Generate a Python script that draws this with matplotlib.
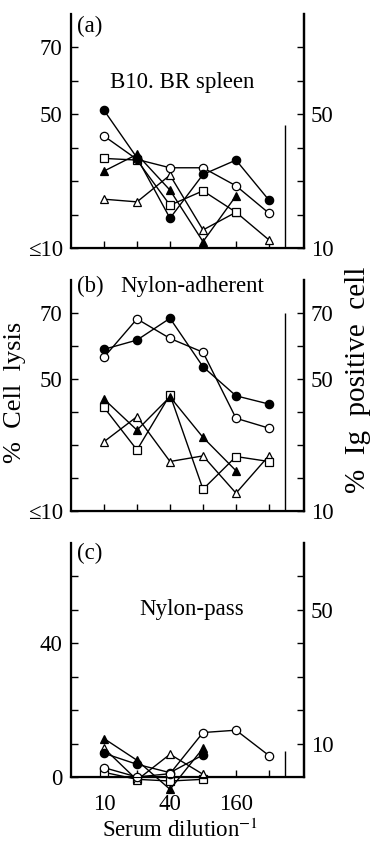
import matplotlib
matplotlib.use("Agg")
import matplotlib.pyplot as plt

plt.rcParams['font.family'] = ['Liberation Serif', 'DejaVu Serif']
plt.rcParams['mathtext.fontset'] = 'stix'

# dilution steps 10, 20, 40, 80, 160, 320 -> index 0..5
x_idx = [0, 1, 2, 3, 4, 5]
x_tick_labels = ['10', '', '40', '', '160', '']

# (a) B10.BR spleen
a_filled_circle = [51.2, 37.0, 18.9, 32.0, 36.3, 24.3]
a_open_circle = [43.5, 36.5, 34.0, 34.0, 28.6, 20.4]
a_open_square = [36.8, 36.3, 22.8, 27.1, 20.7]
a_filled_tri = [33.0, 38.0, 27.3, 11.9, 25.6]
a_open_tri = [24.6, 23.8, 31.8, 15.4, 20.7, 12.4]

# (b) Nylon-adherent
b_filled_circle = [59.0, 61.8, 68.4, 53.7, 44.9, 42.4]
b_open_circle = [56.6, 68.2, 62.3, 58.1, 38.1, 35.1]
b_filled_tri = [43.9, 34.5, 44.6, 32.3, 22.2]
b_open_square = [41.4, 28.5, 45.2, 16.6, 26.5, 25.0]
b_open_tri = [31.0, 38.6, 25.0, 26.7, 15.4, 26.8]

# (c) Nylon-pass
c_filled_circle = [7.1, 3.8, 1.3, 6.6]
c_filled_tri = [11.5, 5.0, -3.7, 8.6]
c_open_tri = [8.6, -0.9, 6.8, 0.8]
c_open_square = [1.4, -0.7, -1.2, -0.7]
c_open_circle = [2.8, 0.0, 1.0, 13.3, 14.0, 6.4]

# Ig positive cell marker lines (one per panel)
ig_line = [46.9, 70.0, 7.8]

W, H = 373, 843
FS = 16.5


def series(ax, vals, marker, filled):
    face = 'black' if filled else 'white'
    ax.plot(x_idx[:len(vals)], vals, color='black', lw=1.0, marker=marker,
            ms=6, mfc=face, mec='black', mew=0.9, clip_on=False, zorder=3)


def makeAxes(top_px, bottom_px, ylo, yhi):
    ax = fig.add_axes([71 / W, 1 - bottom_px / H, (304 - 71) / W, (bottom_px - top_px) / H])
    ax.set_xlim(-1.0, 6.06)
    ax.set_ylim(ylo, yhi)
    ax.spines['top'].set_visible(False)
    for s in ['left', 'bottom', 'right']:
        ax.spines[s].set_linewidth(1.6)
    ax.set_xticks(x_idx)
    ax.set_xticklabels([])
    ax.tick_params(direction='in', length=5, width=1.0, labelsize=FS, pad=6)
    ax.tick_params(axis='x', pad=12)
    ax2 = ax.twinx()
    ax2.set_ylim(ylo, yhi)
    ax2.spines['top'].set_visible(False)
    ax2.spines['right'].set_linewidth(1.6)
    ax2.tick_params(direction='in', length=5, width=1.0, labelsize=FS, pad=5)
    return ax, ax2


fig = plt.figure(figsize=(W / 100, H / 100), dpi=100)

# panel (a)
ax, ax2 = makeAxes(14, 248, 10, 80)
series(ax, a_open_tri, '^', False)
series(ax, a_filled_tri, '^', True)
series(ax, a_open_square, 's', False)
series(ax, a_open_circle, 'o', False)
series(ax, a_filled_circle, 'o', True)
ax.vlines(5.48, 10, ig_line[0], color='black', lw=1.0)
ax.set_yticks([10, 20, 30, 40, 50, 60, 70])
ax.set_yticklabels(['≤10', '', '', '', '50', '', '70'])
ax2.set_yticks([10, 20, 30, 40, 50, 60, 70])
ax2.set_yticklabels(['10', '', '', '', '50', '', ''])
ax.text(0.025, 0.945, '(a)', transform=ax.transAxes, fontsize=FS, va='center')
ax.text(0.476, 0.708, 'B10. BR spleen', transform=ax.transAxes, fontsize=FS,
        ha='center', va='center')

# panel (b)
ax, ax2 = makeAxes(280, 511, 10, 80)
series(ax, b_open_tri, '^', False)
series(ax, b_open_square, 's', False)
series(ax, b_filled_tri, '^', True)
series(ax, b_open_circle, 'o', False)
series(ax, b_filled_circle, 'o', True)
ax.vlines(5.48, 10, ig_line[1], color='black', lw=1.0)
ax.set_yticks([10, 20, 30, 40, 50, 60, 70])
ax.set_yticklabels(['≤10', '', '', '', '50', '', '70'])
ax2.set_yticks([10, 20, 30, 40, 50, 60, 70])
ax2.set_yticklabels(['10', '', '', '', '50', '', '70'])
ax.text(0.025, 0.97, '(b)', transform=ax.transAxes, fontsize=FS, va='center')
ax.text(0.52, 0.97, 'Nylon-adherent', transform=ax.transAxes, fontsize=FS,
        ha='center', va='center')

# panel (c)
ax, ax2 = makeAxes(543, 777, 0, 70)
series(ax, c_open_square, 's', False)
series(ax, c_open_tri, '^', False)
series(ax, c_filled_circle, 'o', True)
series(ax, c_filled_tri, '^', True)
series(ax, c_open_circle, 'o', False)
ax.vlines(5.48, 0, ig_line[2], color='black', lw=1.0)
ax.set_yticks([0, 10, 20, 30, 40, 50, 60])
ax.set_yticklabels(['0', '', '', '', '40', '', ''])
ax2.set_yticks([10, 20, 30, 40, 50, 60])
ax2.set_yticklabels(['10', '', '', '', '50', ''])
ax.set_xticklabels(x_tick_labels)
ax.text(0.025, 0.957, '(c)', transform=ax.transAxes, fontsize=FS, va='center')
ax.text(0.52, 0.714, 'Nylon-pass', transform=ax.transAxes, fontsize=FS,
        ha='center', va='center')

fig.text(15 / W, 1 - 392 / H, '%  Cell  lysis', rotation=90, fontsize=19,
         ha='center', va='center')
fig.text(358 / W, 1 - 380 / H, '%  Ig  positive  cell', rotation=90, fontsize=21,
         ha='center', va='center')
fig.text(180 / W, 1 - 830 / H, 'Serum dilution$^{-1}$', fontsize=FS,
         ha='center', va='center')

fig.savefig('out.png', dpi=100)
